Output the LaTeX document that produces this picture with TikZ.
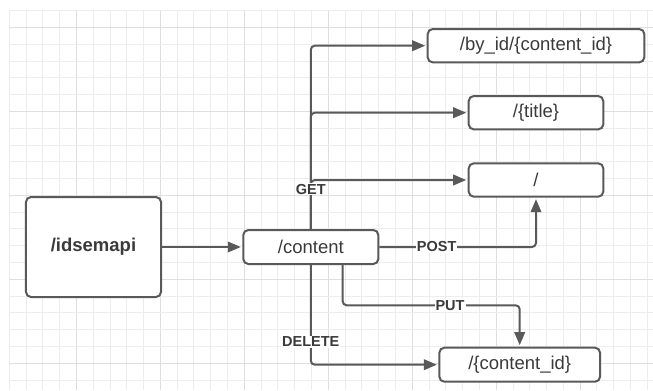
\documentclass[tikz,border=0pt]{standalone}
\usepackage{fontspec}
\setmainfont{Liberation Sans}
\usetikzlibrary{arrows.meta,calc}

\definecolor{edge}{HTML}{595959}
\definecolor{ink}{HTML}{3A3A3A}
\definecolor{gridminor}{HTML}{EDEDED}
\definecolor{gridmajor}{HTML}{DFDFDF}

\tikzset{
  endpoint/.style={draw=edge, line width=2bp, rounded corners=5bp, fill=white,
    text=ink, inner sep=0pt, font=\fontsize{18.5bp}{22bp}\selectfont},
  conn/.style={draw=edge, line width=2bp, rounded corners=4bp,
    -{Triangle[length=13bp,width=10.5bp]}, shorten >=1.5bp},
  verb/.style={fill=white, text=ink, inner sep=1bp,
    font=\fontsize{14.5bp}{16bp}\selectfont\bfseries},
}

\begin{document}
\begin{tikzpicture}[x=1bp, y=-1bp]
  \useasboundingbox (0,0) rectangle (653,390);
  \fill[white] (0,0) rectangle (653,390);

  % background grid, heavier line every fifth cell
  \foreach \i in {0,...,38} {
    \pgfmathtruncatemacro{\m}{mod(\i,5)}
    \ifnum\m=4
      \draw[gridmajor, line width=1bp] ({9.3+16.79*\i},10.7) -- ({9.3+16.79*\i},390);
    \else
      \draw[gridminor, line width=1bp] ({9.3+16.79*\i},10.7) -- ({9.3+16.79*\i},390);
    \fi
  }
  \foreach \j in {0,...,22} {
    \pgfmathtruncatemacro{\m}{mod(\j,5)}
    \ifnum\m=1
      \draw[gridmajor, line width=1bp] (9.3,{10.7+16.79*\j}) -- (653,{10.7+16.79*\j});
    \else
      \draw[gridminor, line width=1bp] (9.3,{10.7+16.79*\j}) -- (653,{10.7+16.79*\j});
    \fi
  }

  % resources
  \node[endpoint, minimum width=135bp, minimum height=100bp, font=\fontsize{18.5bp}{22bp}\selectfont\bfseries]
    (api) at (93.5,247) {/idsemapi};
  \node[endpoint, minimum width=135bp, minimum height=34bp] (content) at (310.8,247) {/content};
  \node[endpoint, minimum width=216.6bp, minimum height=33.3bp] (byid) at (536,45.7) {/by\_id/\{content\_id\}};
  \node[endpoint, minimum width=134.6bp, minimum height=33.3bp] (title) at (536,112.7) {/\{title\}};
  \node[endpoint, minimum width=134.6bp, minimum height=33.3bp] (root) at (536,180) {/};
  \node[endpoint, minimum width=160.7bp, minimum height=34bp] (cid) at (519.7,364.7) {/\{content\_id\}};

  \coordinate (putbend) at (342.7,305.3);

  % connectors
  \draw[conn] (api.east) -- (content.west);
  \draw[conn] (content.north) |- (byid.west);
  \draw[conn] (content.north) |- (title.west);
  \draw[conn] (content.north) |- (root.west);
  \draw[conn] (content.east) -| (root.south);
  \draw[conn] (putbend |- content.south) -- (putbend) -| (cid.north);
  \draw[conn] (content.south) |- (cid.west);

  % HTTP verbs
  \node[verb] (get) at (310.8,189.3) {GET};
  \node[verb] (post) at (436.7,246.7) {POST};
  \node[verb] (put) at (450,305.3) {PUT};
  \node[verb] (delete) at (310.8,341.7) {DELETE};
\end{tikzpicture}
\end{document}
